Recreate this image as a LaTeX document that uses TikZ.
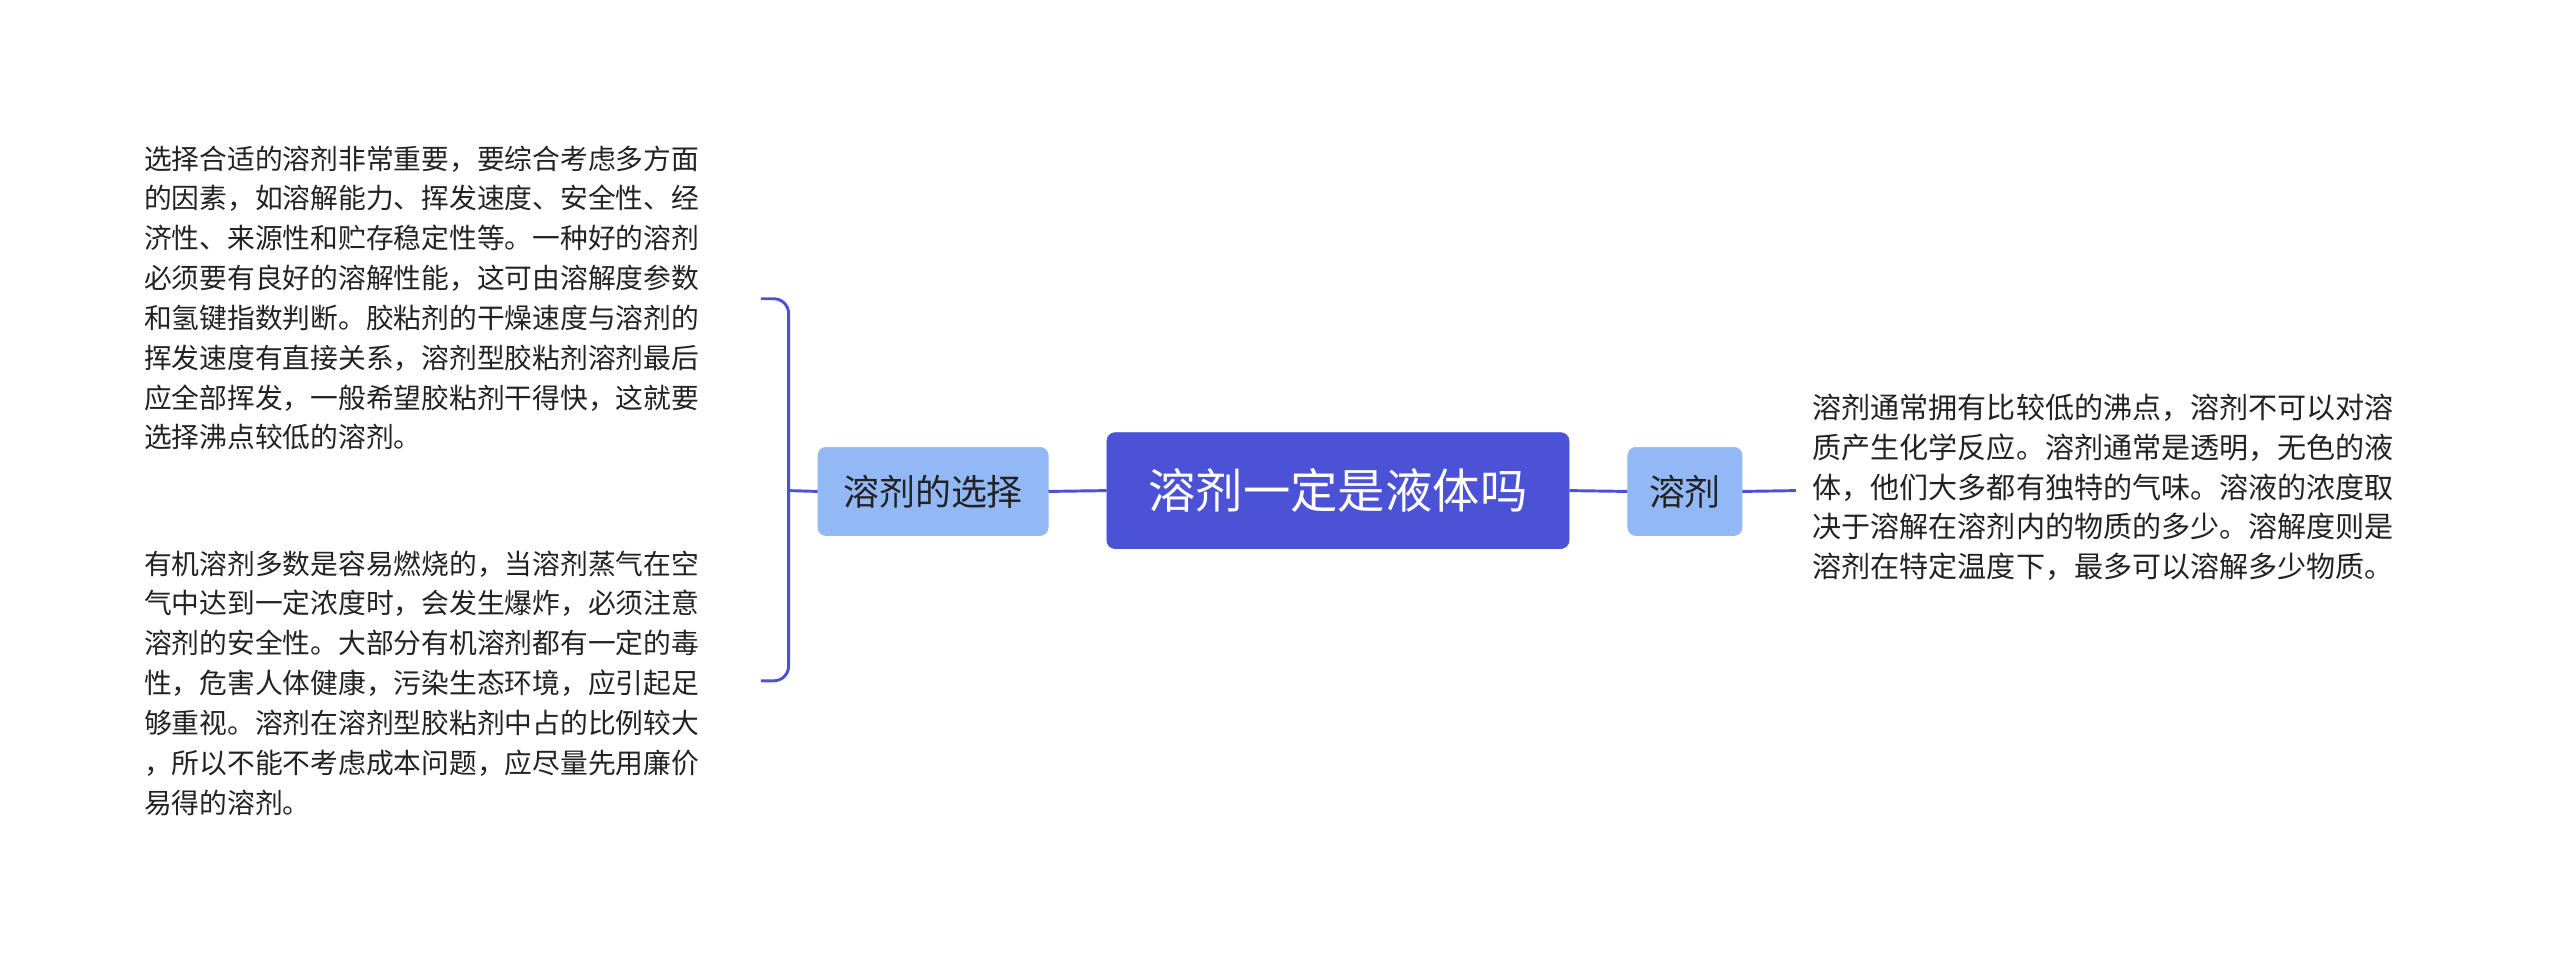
\documentclass[tikz,border=0pt]{standalone}
\usepackage{fontspec}
\setmainfont{Noto Sans CJK SC}
\definecolor{main}{HTML}{4C52D6}
\definecolor{sub}{HTML}{92B8F6}
\definecolor{txt}{HTML}{222222}
\begin{document}
\begin{tikzpicture}[x=1pt,y=-1pt,
  centerbox/.style={draw=main,fill=main,rounded corners=5pt,text=white,font=\fontsize{29}{34}\selectfont,minimum width=283pt,minimum height=71pt,inner sep=0pt},
  subbox/.style={draw=sub,fill=sub,rounded corners=5pt,text=txt,font=\fontsize{22}{26}\selectfont,minimum height=54pt,inner sep=0pt},
  leaf/.style={text=txt,font=\fontsize{17}{24.4}\selectfont,align=left,inner sep=0pt},
  conn/.style={draw=main,line width=1.8pt}]
\useasboundingbox (0,0) rectangle (1568,590.4);
\node[centerbox] (c) at (819.5,300.5) {溶剂一定是液体吗};
\node[subbox,minimum width=141pt] (l) at (571.5,301) {溶剂的选择};
\node[subbox,minimum width=70pt] (r) at (1032,301) {溶剂};
\draw[conn] (c.west) -- (l.east);
\draw[conn] (c.east) -- (r.east -| r.west);
\coordinate (b) at (483,300.5);
\coordinate (t1) at (466,183);
\coordinate (t2) at (466,417);
\coordinate (rr) at (1100,300.5);
\draw[conn] (l.west) -- (b);
\draw[conn,rounded corners=9pt] (t1) -- (483,183) -- (483,417) -- (t2);
\draw[conn] (r.east) -- (rr);
\node[leaf,anchor=north west] (a1) at (88,89) {选择合适的溶剂非常重要，要综合考虑多方面\\的因素，如溶解能力、挥发速度、安全性、经\\济性、来源性和贮存稳定性等。一种好的溶剂\\必须要有良好的溶解性能，这可由溶解度参数\\和氢键指数判断。胶粘剂的干燥速度与溶剂的\\挥发速度有直接关系，溶剂型胶粘剂溶剂最后\\应全部挥发，一般希望胶粘剂干得快，这就要\\选择沸点较低的溶剂。};
\node[leaf,anchor=north west] (a2) at (88,337) {有机溶剂多数是容易燃烧的，当溶剂蒸气在空\\气中达到一定浓度时，会发生爆炸，必须注意\\溶剂的安全性。大部分有机溶剂都有一定的毒\\性，危害人体健康，污染生态环境，应引起足\\够重视。溶剂在溶剂型胶粘剂中占的比例较大\\，所以不能不考虑成本问题，应尽量先用廉价\\易得的溶剂。};
\node[leaf,anchor=north west,font=\fontsize{17.8}{24.4}\selectfont] (a3) at (1110,241) {溶剂通常拥有比较低的沸点，溶剂不可以对溶\\质产生化学反应。溶剂通常是透明，无色的液\\体，他们大多都有独特的气味。溶液的浓度取\\决于溶解在溶剂内的物质的多少。溶解度则是\\溶剂在特定温度下，最多可以溶解多少物质。};
\end{tikzpicture}
\end{document}
